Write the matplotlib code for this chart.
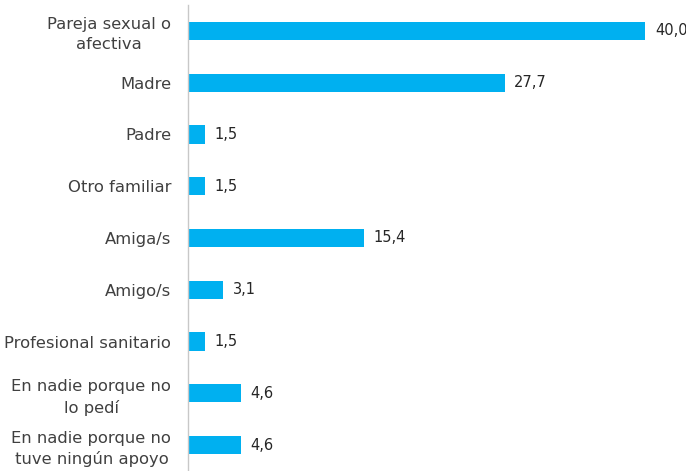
import matplotlib
matplotlib.use("Agg")
import matplotlib.pyplot as plt

categories = ["Pareja sexual o\nafectiva", "Madre", "Padre", "Otro familiar", "Amiga/s",
              "Amigo/s", "Profesional sanitario", "En nadie porque no\nlo pedí",
              "En nadie porque no\ntuve ningún apoyo"]
values = [40.0, 27.7, 1.5, 1.5, 15.4, 3.1, 1.5, 4.6, 4.6]
value_labels = ["40,0", "27,7", "1,5", "1,5", "15,4", "3,1", "1,5", "4,6", "4,6"]

fig = plt.figure(figsize=(6.86, 4.71), dpi=100)
ax = fig.add_axes([188/686, 0, 1 - 188/686, 466/471])
y = list(range(len(categories)))
ax.barh(y, values, height=0.35, color="#00B0F0")
ax.set_ylim(len(categories) - 0.5, -0.5)
ax.set_xlim(0, 498/11.43)
ax.set_yticks(y)
ax.set_yticklabels(categories, fontsize=11.8, color="#404040", linespacing=1.4)
for t in ax.get_yticklabels():
    t.set_multialignment("center")
ax.tick_params(axis="y", length=0, pad=12)
ax.set_xticks([])
for s in ["top", "right", "bottom"]:
    ax.spines[s].set_visible(False)
ax.spines["left"].set_color("#c8c8c8")
ax.spines["left"].set_linewidth(1)
for yi, v, lab in zip(y, values, value_labels):
    ax.text(v + 0.85, yi, lab, va="center", ha="left", fontsize=10.5, color="#262626")
fig.savefig("out.png", dpi=100)
